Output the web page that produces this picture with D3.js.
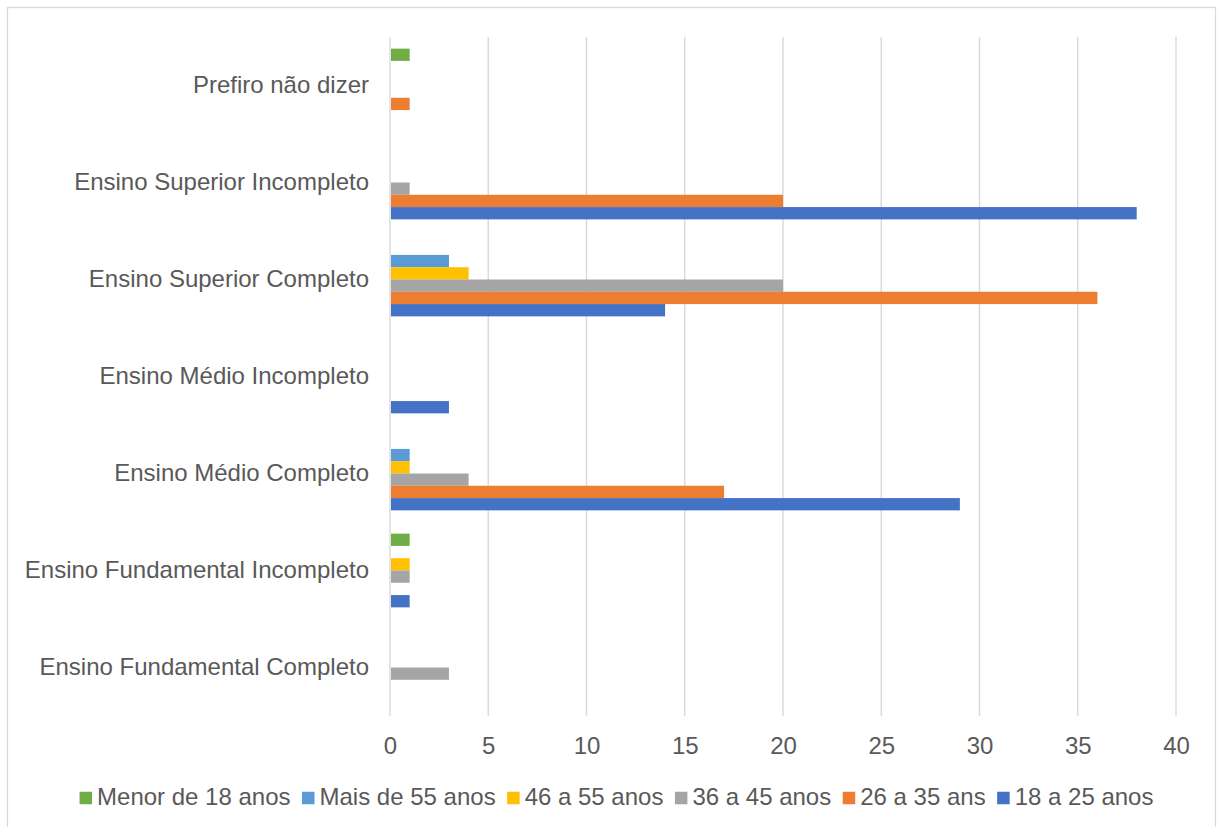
<!DOCTYPE html>
<html>
<head>
<meta charset="utf-8">
<script src="https://cdn.jsdelivr.net/npm/d3@7"></script>
<style>
  html, body { margin: 0; padding: 0; background: #ffffff; }
  svg text { font-family: "Liberation Sans", Arial, sans-serif; fill: #595959; }
</style>
</head>
<body>
<svg id="chart" width="1218" height="827"></svg>
<script>
// Education levels, listed bottom to top as they appear on the axis
const categories = [
  "Ensino Fundamental Completo",
  "Ensino Fundamental Incompleto",
  "Ensino Médio Completo",
  "Ensino Médio Incompleto",
  "Ensino Superior Completo",
  "Ensino Superior Incompleto",
  "Prefiro não dizer"
];

// Age groups (legend order; drawn top to bottom inside each group)
const seriesNames = ["Menor de 18 anos", "Mais de 55 anos", "46 a 55 anos", "36 a 45 anos", "26 a 35 ans", "18 a 25 anos"];
const seriesColors = ["#70AD47", "#5B9BD5", "#FFC000", "#A5A5A5", "#ED7D31", "#4472C4"];

// Counts per education level, same order as categories
const menor18 = [0, 1, 0, 0, 0, 0, 1];
const mais55  = [0, 0, 1, 0, 3, 0, 0];
const de46a55 = [0, 1, 1, 0, 4, 0, 0];
const de36a45 = [3, 1, 4, 0, 20, 1, 0];
const de26a35 = [0, 0, 17, 0, 36, 20, 1];
const de18a25 = [0, 1, 29, 3, 14, 38, 0];

const seriesValues = [menor18, mais55, de46a55, de36a45, de26a35, de18a25];

const xTicks = [0, 5, 10, 15, 20, 25, 30, 35, 40];

const svg = d3.select("#chart");

// Chart frame
svg.append("rect")
  .attr("x", 7.5).attr("y", 7.5)
  .attr("width", 1208).attr("height", 830)
  .attr("fill", "none")
  .attr("stroke", "#D9D9D9")
  .attr("stroke-width", 1.3);

const plot = { left: 390, right: 1176, top: 37, bottom: 716 };

const x = d3.scaleLinear().domain([0, 40]).range([plot.left, plot.right]);

// Top category first on screen
const y = d3.scaleBand()
  .domain(categories.slice().reverse())
  .range([plot.top, plot.bottom])
  .paddingInner(0.24)
  .paddingOuter(0.12);

const ySub = d3.scaleBand()
  .domain(seriesNames)
  .range([0, y.bandwidth()]);

// Vertical gridlines
svg.append("g")
  .selectAll("line")
  .data(xTicks)
  .join("line")
  .attr("x1", d => x(d)).attr("x2", d => x(d))
  .attr("y1", plot.top).attr("y2", plot.bottom)
  .attr("stroke", "#D9D9D9")
  .attr("stroke-width", 1.4);

// Bars
const groups = svg.append("g")
  .selectAll("g")
  .data(categories)
  .join("g")
  .attr("transform", d => `translate(0,${y(d)})`);

groups.selectAll("rect")
  .data((cat, ci) => seriesNames.map((s, si) => ({ s, si, v: seriesValues[si][ci] })))
  .join("rect")
  .attr("x", x(0) + 1)
  .attr("y", d => ySub(d.s))
  .attr("width", d => d.v > 0 ? x(d.v) - x(0) - 1 : 0)
  .attr("height", ySub.bandwidth())
  .attr("fill", d => seriesColors[d.si]);

// Category labels
const yAxis = d3.axisLeft(y).tickSize(0).tickPadding(21);
const yg = svg.append("g").attr("transform", `translate(${plot.left},0)`).call(yAxis);
yg.select(".domain").remove();
yg.selectAll("text")
  .attr("font-size", 24)
  .attr("fill", "#595959")
  .attr("font-family", '"Liberation Sans", Arial, sans-serif')
  .attr("dy", "0.3em");

// Value axis labels
const xAxis = d3.axisBottom(x).tickValues(xTicks).tickSize(0).tickPadding(21);
const xg = svg.append("g").attr("transform", `translate(0,${plot.bottom})`).call(xAxis);
xg.select(".domain").remove();
xg.selectAll("text")
  .attr("font-size", 24)
  .attr("fill", "#595959")
  .attr("font-family", '"Liberation Sans", Arial, sans-serif')
  .attr("dy", "0.71em")
  .attr("y", 21);

// Legend
const legend = svg.append("g");
const sw = 12.5, gapText = 5, gapItem = 11.5;
const items = legend.selectAll("g")
  .data(seriesNames)
  .join("g");
items.append("rect")
  .attr("width", sw).attr("height", sw)
  .attr("y", -sw / 2 - 7)
  .attr("fill", (d, i) => seriesColors[i]);
items.append("text")
  .attr("x", sw + gapText)
  .attr("y", 0)
  .attr("font-size", 24)
  .text(d => d);

let cursor = 0;
const widths = [];
items.each(function () {
  const w = this.querySelector("text").getComputedTextLength();
  widths.push(w);
});
const total = d3.sum(widths, w => sw + gapText + w) + gapItem * (widths.length - 1);
cursor = 616.5 - total / 2;
items.attr("transform", (d, i) => {
  const pos = cursor;
  cursor += sw + gapText + widths[i] + gapItem;
  return `translate(${pos},805)`;
});
</script>
</body>
</html>
